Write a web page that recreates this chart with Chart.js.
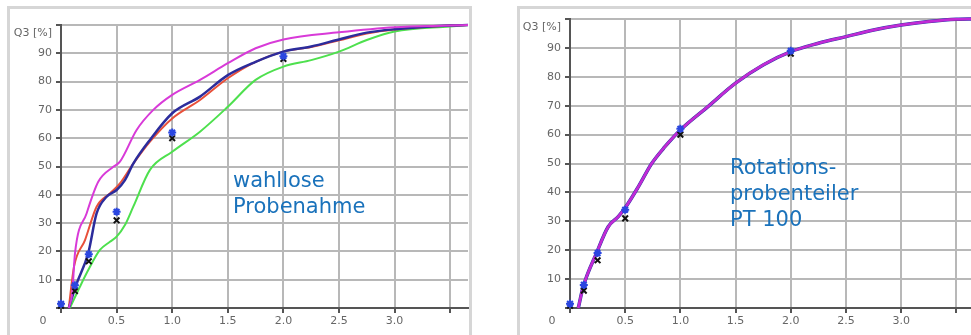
<!DOCTYPE html>
<html>
<head>
<meta charset="utf-8">
<script src="https://cdn.jsdelivr.net/npm/chart.js@4/dist/chart.umd.min.js"></script>
<style>
  html, body { margin: 0; padding: 0; background: #fff; }
  body { width: 971px; height: 335px; overflow: hidden; position: relative; font-family: "DejaVu Sans", sans-serif; }
  .frame { position: absolute; border: 3px solid #d6d6d6; box-sizing: border-box; }
  .holder { position: absolute; top: 0; }
  .note { position: absolute; color: #1a72bb; font-size: 21px; line-height: 26px; white-space: nowrap; }
</style>
</head>
<body>
<div class="frame" style="left:7px; top:6px; width:465px; height:345px;"></div>
<div class="frame" style="left:517px; top:6px; width:480px; height:345px;"></div>
<div class="holder" style="left:0;"><canvas id="chartLeft" width="480" height="335"></canvas></div>
<div class="holder" style="left:490px;"><canvas id="chartRight" width="490" height="335"></canvas></div>
<div class="note" style="left:233px; top:167px;">wahllose<br>Probenahme</div>
<div class="note" style="left:730px; top:154px;">Rotations-<br>probenteiler<br>PT 100</div>
<script>
// sieve points (both panels)
const sieveX = [0, 0.125, 0.25, 0.5, 1.0, 2.0];
const starY = [1.5, 8, 19, 34, 62, 89];
const crossY = [0.8, 6, 16.5, 31, 60, 88];

// left panel: wahllose Probenahme
const magentaX = [0.07, 0.1, 0.126, 0.23, 0.335, 0.47, 0.53, 0.68, 0.83, 1.0, 1.25, 1.5, 1.75, 2.0, 2.5, 3.0, 3.5, 3.66];
const magentaY = [0, 5, 19.4, 33.4, 44.6, 49.9, 51.7, 62.9, 70, 75.3, 80.6, 86.5, 91.8, 94.9, 97.4, 99.2, 99.8, 100];
const redX = [0.07, 0.117, 0.216, 0.32, 0.44, 0.53, 0.65, 0.8, 1.0, 1.25, 1.5, 1.75, 2.0, 2.25, 2.5, 2.75, 3.0, 3.5, 3.66];
const redY = [0, 14.6, 24, 35.8, 40.5, 44, 51, 58.8, 67, 73.5, 81.2, 87, 90.6, 92.2, 94.6, 97, 98.4, 99.8, 100];
const blueX = [0.07, 0.135, 0.245, 0.32, 0.41, 0.5, 0.575, 0.65, 0.8, 1.0, 1.25, 1.5, 1.75, 2.0, 2.25, 2.5, 2.75, 3.0, 3.5, 3.66];
const blueY = [0, 8, 19.4, 33.4, 39.3, 41.7, 45.2, 51, 59.4, 68.8, 74.7, 82.3, 87, 90.6, 92.4, 94.9, 97.3, 98.5, 99.8, 100];
const greenX = [0.08, 0.17, 0.245, 0.35, 0.44, 0.5, 0.575, 0.65, 0.8, 1.0, 1.25, 1.5, 1.75, 2.0, 2.25, 2.5, 2.75, 3.0, 3.5, 3.66];
const greenY = [0, 7.5, 13.4, 20.5, 23.4, 25.2, 29.3, 35.8, 48.8, 55.2, 62.3, 71.1, 80.6, 85.3, 87.6, 90.6, 94.7, 97.7, 99.5, 100];

// right panel: Rotationsprobenteiler PT 100 (all runs on top of each other)
const rotX = [0.075, 0.12, 0.24, 0.346, 0.437, 0.497, 0.62, 0.74, 0.86, 1.0, 1.25, 1.5, 1.75, 2.0, 2.25, 2.5, 2.75, 3.0, 3.25, 3.5, 3.66];
const rotY = [0, 7.4, 19, 28.1, 31.6, 34.5, 42, 50, 55.8, 61.6, 69.7, 77.8, 84.1, 88.7, 91.6, 93.9, 96.2, 97.9, 99.1, 99.9, 100];

const xTicks = [0.5, 1.0, 1.5, 2.0, 2.5, 3.0];
const xMax = 3.66;

const pts = (xs, ys) => xs.map((x, i) => ({ x: x, y: ys[i] }));

function curve(xs, ys, color, width) {
    return {
        data: pts(xs, ys),
        showLine: true,
        borderColor: color,
        borderWidth: width,
        pointRadius: 0,
        cubicInterpolationMode: 'monotone',
        clip: false
    };
}

function markers(ys, style, color) {
    return {
        data: pts(sieveX, ys),
        showLine: false,
        pointStyle: style,
        pointRadius: 4,
        pointBorderWidth: 2,
        pointBorderColor: color,
        pointBackgroundColor: color,
        clip: false
    };
}

// "Q3 [%]" and the corner "0"
const cornerLabels = {
    id: 'cornerLabels',
    afterDraw(chart) {
        const { ctx, chartArea } = chart;
        ctx.save();
        ctx.font = '11px "DejaVu Sans"';
        ctx.fillStyle = '#666';
        ctx.textBaseline = 'middle';
        ctx.textAlign = 'right';
        ctx.fillText('Q3 [%]', chartArea.left - 9, chartArea.top + 8);
        ctx.textAlign = 'center';
        ctx.fillText('0', chartArea.left - 18, chartArea.bottom + 13);
        ctx.restore();
    }
};

function makeChart(id, datasets, yWidth, pad) {
    const font = { family: 'DejaVu Sans', size: 11 };
    return new Chart(document.getElementById(id), {
        type: 'scatter',
        data: { datasets: datasets },
        options: {
            responsive: false,
            animation: false,
            layout: { padding: pad },
            plugins: { legend: { display: false }, tooltip: { enabled: false } },
            scales: {
                x: {
                    type: 'linear',
                    min: 0,
                    max: xMax,
                    afterFit: s => { s.height = 27; },
                    grid: { color: '#b8b8b8', lineWidth: 2, tickLength: 5, tickColor: '#555' },
                    border: { color: '#555', width: 2 },
                    ticks: {
                        stepSize: 0.5,
                        includeBounds: false,
                        padding: 2,
                        color: '#666',
                        font: font,
                        maxRotation: 0,
                        autoSkip: false,
                        callback: v => xTicks.includes(v) ? v.toFixed(1) : ''
                    }
                },
                y: {
                    min: 0,
                    max: 100,
                    afterFit: s => { s.width = yWidth; },
                    grid: { color: '#b8b8b8', lineWidth: 2, tickLength: 5, tickColor: '#555' },
                    border: { color: '#555', width: 2 },
                    ticks: {
                        stepSize: 10,
                        padding: 4,
                        color: '#666',
                        font: font,
                        callback: v => (v === 0 || v === 100) ? '' : v
                    }
                }
            }
        },
        plugins: [cornerLabels]
    });
}

// Chart.js paints dataset 0 last, so markers first, then top-most curve
makeChart('chartLeft', [
    markers(starY, 'star', '#2a46e0'),
    markers(crossY, 'crossRot', '#111'),
    curve(magentaX, magentaY, '#d83ad8', 2),
    curve(blueX, blueY, '#2c2c9c', 2.5),
    curve(redX, redY, '#e8503a', 2),
    curve(greenX, greenY, '#4ee04e', 2)
], 61, { top: 25, right: 12, bottom: 0, left: 0 });

makeChart('chartRight', [
    markers(starY, 'star', '#2a46e0'),
    markers(crossY, 'crossRot', '#111'),
    curve(rotX, rotY, '#c02ad8', 2.5),
    curve(rotX, rotY, '#e0404a', 2),
    curve(rotX, rotY, '#3030b0', 3.5)
], 80, { top: 19, right: 3, bottom: 0, left: 0 });
</script>
</body>
</html>
